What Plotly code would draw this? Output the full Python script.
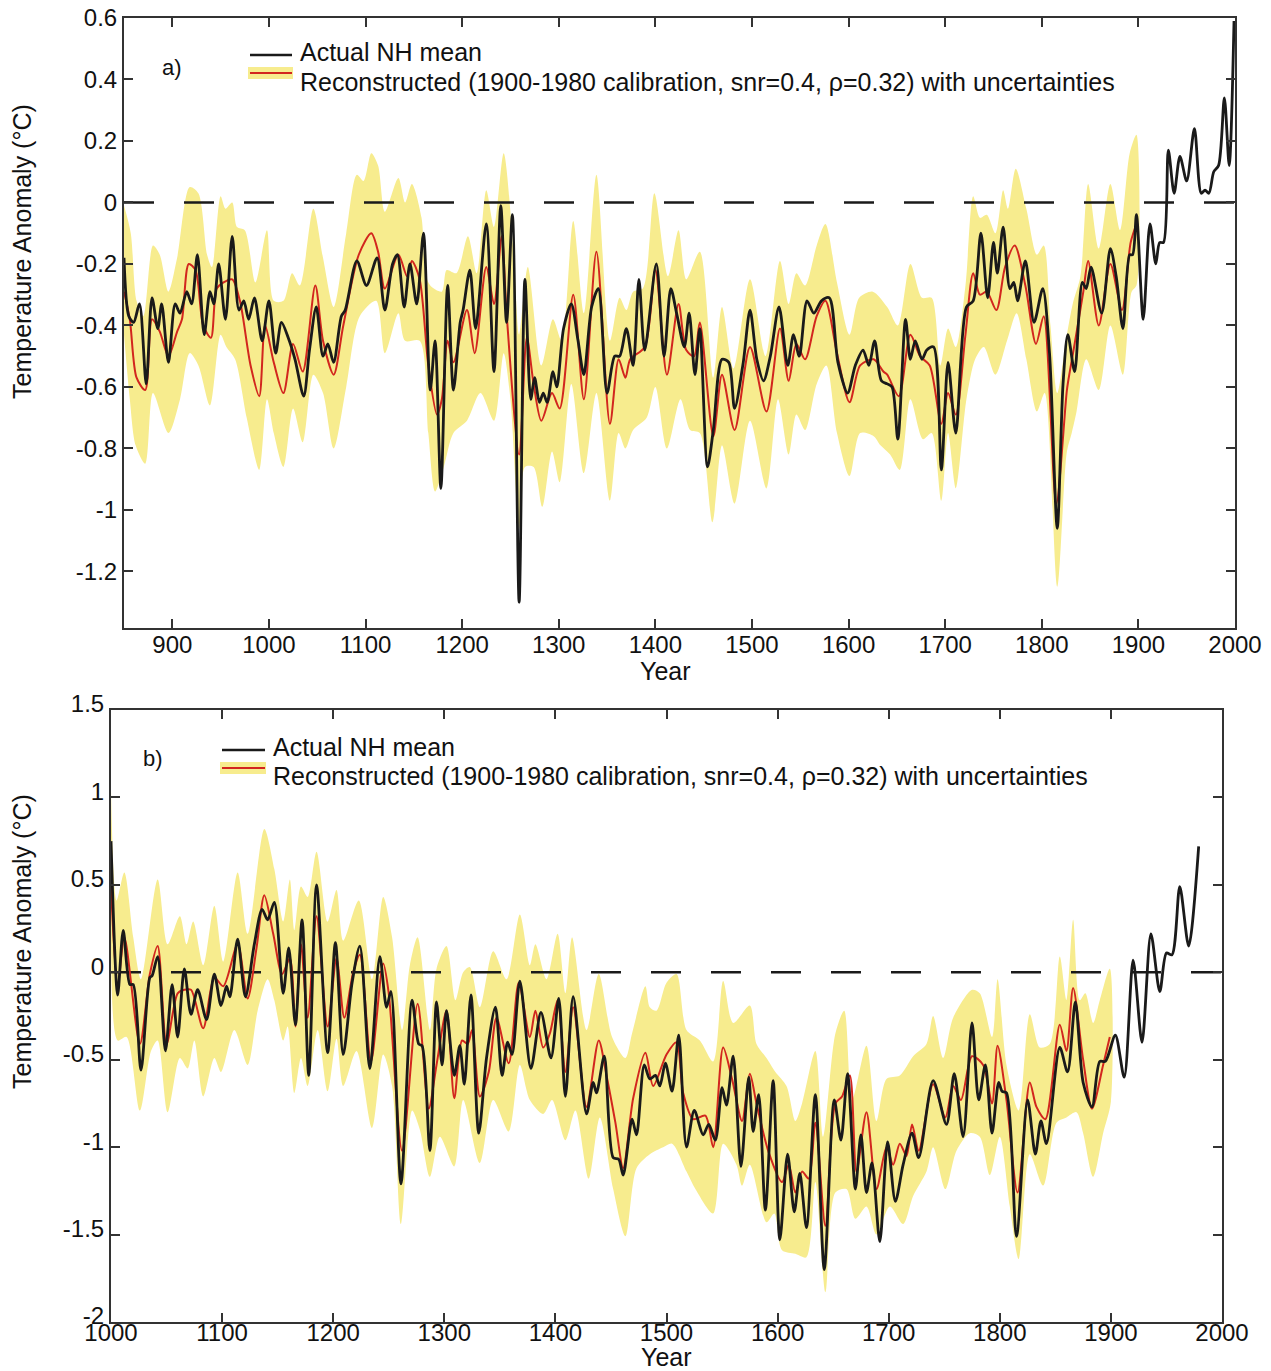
import plotly.graph_objects as go

# ---------------- Panel a data ----------------
a_black_years = [850, 855, 860, 866, 873, 879, 885, 889, 896, 903, 908, 915, 920, 926, 933, 939, 943, 948, 955, 962,
                 969, 974, 979, 985, 993, 1000, 1007, 1013, 1020, 1027, 1036, 1042, 1049, 1056, 1061, 1067, 1075, 1079,
                 1091, 1101, 1112, 1120, 1128, 1133, 1140, 1146, 1153, 1160, 1167, 1172, 1178, 1185, 1191, 1198, 1201,
                 1208, 1214, 1225, 1233, 1240, 1246, 1252, 1259, 1265, 1271, 1275, 1280, 1284, 1288, 1294, 1298, 1305,
                 1313, 1320, 1326, 1334, 1341, 1350, 1358, 1363, 1370, 1377, 1383, 1389, 1401, 1409, 1416, 1422, 1430,
                 1435, 1441, 1446, 1454, 1460, 1469, 1476, 1482, 1491, 1498, 1505, 1512, 1519, 1528, 1537, 1543, 1549,
                 1557, 1564, 1572, 1580, 1589, 1599, 1607, 1615, 1621, 1627, 1634, 1640, 1645, 1651, 1659, 1664, 1669,
                 1676, 1681, 1688, 1696, 1703, 1711, 1722, 1729, 1737, 1744, 1750, 1754, 1760, 1767, 1771, 1775, 1783,
                 1792, 1801, 1808, 1816, 1822, 1827, 1834, 1842, 1846, 1851, 1862, 1871, 1877, 1884, 1891, 1894, 1898,
                 1905, 1912, 1918, 1922, 1926, 1931, 1937, 1943, 1950, 1958, 1965, 1969, 1973, 1978, 1983, 1989, 1994,
                 1999]
a_black_vals = [-0.18, -0.37, -0.39, -0.33, -0.59, -0.31, -0.41, -0.33, -0.52, -0.33, -0.36, -0.29, -0.33, -0.17, -0.43,
                -0.29, -0.33, -0.20, -0.38, -0.11, -0.35, -0.32, -0.38, -0.31, -0.45, -0.32, -0.49, -0.39, -0.44, -0.51,
                -0.63, -0.48, -0.34, -0.50, -0.46, -0.52, -0.37, -0.35, -0.19, -0.27, -0.18, -0.35, -0.20, -0.17, -0.34,
                -0.20, -0.33, -0.10, -0.61, -0.45, -0.93, -0.27, -0.61, -0.39, -0.35, -0.22, -0.41, -0.07, -0.55, -0.01,
                -0.39, -0.04, -1.30, -0.25, -0.64, -0.57, -0.65, -0.62, -0.65, -0.55, -0.60, -0.41, -0.33, -0.45, -0.56,
                -0.34, -0.28, -0.62, -0.50, -0.50, -0.41, -0.53, -0.25, -0.48, -0.20, -0.50, -0.28, -0.36, -0.47, -0.36,
                -0.56, -0.41, -0.86, -0.74, -0.51, -0.52, -0.67, -0.52, -0.35, -0.51, -0.58, -0.50, -0.34, -0.53, -0.43,
                -0.50, -0.32, -0.36, -0.32, -0.31, -0.52, -0.62, -0.53, -0.48, -0.53, -0.45, -0.58, -0.59, -0.60, -0.77,
                -0.38, -0.51, -0.45, -0.51, -0.48, -0.47, -0.87, -0.52, -0.75, -0.34, -0.32, -0.10, -0.31, -0.13, -0.23,
                -0.08, -0.28, -0.26, -0.32, -0.19, -0.39, -0.28, -0.49, -1.06, -0.59, -0.43, -0.55, -0.26, -0.28, -0.21,
                -0.36, -0.15, -0.24, -0.41, -0.17, -0.17, -0.04, -0.38, -0.07, -0.20, -0.13, -0.13, 0.17, 0.03, 0.15,
                0.07, 0.24, 0.03, 0.04, 0.03, 0.10, 0.12, 0.34, 0.12, 0.59]

a_red_years = [850, 856, 863, 872, 879, 887, 896, 905, 910, 917, 924, 932, 940, 946, 953, 962, 970, 981, 990, 996, 1005,
               1015, 1025, 1035, 1048, 1056, 1067, 1077, 1093, 1106, 1113, 1120, 1134, 1143, 1148, 1156, 1165, 1174,
               1179, 1185, 1191, 1205, 1213, 1225, 1233, 1241, 1246, 1259, 1267, 1274, 1282, 1293, 1301, 1315, 1326,
               1339, 1353, 1362, 1369, 1374, 1389, 1400, 1412, 1424, 1432, 1440, 1446, 1460, 1469, 1482, 1498, 1515,
               1529, 1538, 1546, 1555, 1567, 1576, 1588, 1601, 1612, 1626, 1636, 1640, 1652, 1664, 1674, 1684, 1696,
               1703, 1711, 1721, 1729, 1736, 1743, 1753, 1762, 1772, 1783, 1794, 1802, 1815, 1826, 1829, 1834, 1843,
               1848, 1859, 1871, 1883, 1892, 1898]
a_red_vals = [-0.29, -0.38, -0.57, -0.61, -0.38, -0.42, -0.50, -0.42, -0.38, -0.20, -0.22, -0.40, -0.44, -0.28, -0.26,
              -0.25, -0.32, -0.53, -0.63, -0.40, -0.52, -0.62, -0.46, -0.55, -0.27, -0.45, -0.56, -0.40, -0.17, -0.10,
              -0.16, -0.28, -0.17, -0.24, -0.19, -0.25, -0.53, -0.69, -0.64, -0.45, -0.52, -0.35, -0.49, -0.21, -0.33,
              -0.11, -0.36, -0.82, -0.44, -0.59, -0.71, -0.62, -0.67, -0.30, -0.64, -0.16, -0.72, -0.51, -0.57, -0.51,
              -0.47, -0.22, -0.56, -0.33, -0.48, -0.50, -0.39, -0.76, -0.56, -0.74, -0.47, -0.68, -0.41, -0.58, -0.46,
              -0.51, -0.37, -0.32, -0.49, -0.65, -0.53, -0.51, -0.55, -0.56, -0.63, -0.43, -0.50, -0.53, -0.72, -0.62,
              -0.69, -0.43, -0.23, -0.30, -0.29, -0.35, -0.21, -0.14, -0.27, -0.46, -0.37, -0.98, -0.61, -0.55, -0.46,
              -0.29, -0.19, -0.40, -0.20, -0.35, -0.13, -0.07]

a_upper_years = [850, 857, 863, 870, 880, 887, 896, 905, 918, 927, 936, 941, 950, 955, 962, 967, 975, 986, 998, 1005,
                 1015, 1024, 1032, 1046, 1056, 1067, 1080, 1091, 1098, 1106, 1113, 1120, 1134, 1141, 1148, 1158, 1162,
                 1167, 1179, 1184, 1194, 1206, 1215, 1225, 1233, 1243, 1253, 1259, 1268, 1282, 1294, 1303, 1315, 1326,
                 1339, 1353, 1363, 1370, 1377, 1387, 1399, 1413, 1424, 1432, 1446, 1460, 1469, 1481, 1498, 1514, 1529,
                 1538, 1546, 1555, 1567, 1576, 1588, 1601, 1611, 1625, 1640, 1651, 1664, 1676, 1686, 1695, 1703, 1711,
                 1721, 1729, 1736, 1743, 1752, 1760, 1765, 1773, 1784, 1795, 1802, 1809, 1816, 1826, 1832, 1840, 1848,
                 1859, 1871, 1881, 1891, 1898]
a_upper_vals = [-0.01, -0.10, -0.32, -0.37, -0.14, -0.17, -0.29, -0.18, 0.05, 0.03, -0.17, -0.21, 0.02, -0.02, 0.00,
                -0.08, -0.09, -0.26, -0.09, -0.32, -0.32, -0.23, -0.27, -0.02, -0.18, -0.34, -0.10, 0.09, 0.07, 0.16,
                0.12, -0.03, 0.08, 0.00, 0.06, -0.05, -0.23, -0.27, -0.29, -0.22, -0.23, -0.11, -0.23, 0.04, -0.08, 0.16,
                -0.15, -0.43, -0.21, -0.53, -0.38, -0.45, -0.06, -0.36, 0.09, -0.45, -0.31, -0.35, -0.29, -0.28, 0.03,
                -0.24, -0.09, -0.25, -0.16, -0.57, -0.34, -0.54, -0.25, -0.50, -0.19, -0.33, -0.23, -0.27, -0.14, -0.07,
                -0.26, -0.43, -0.31, -0.29, -0.34, -0.40, -0.20, -0.31, -0.31, -0.53, -0.41, -0.47, -0.27, 0.02, -0.05,
                -0.04, -0.10, 0.04, -0.02, 0.11, -0.02, -0.17, -0.14, -0.40, -0.62, -0.43, -0.33, -0.24, 0.06, -0.15,
                0.06, -0.09, 0.16, 0.22]

a_lower_years = [850, 856, 862, 872, 880, 896, 908, 918, 927, 939, 950, 956, 965, 977, 990, 998, 1005, 1015, 1025, 1035,
                 1046, 1056, 1067, 1080, 1094, 1111, 1120, 1134, 1141, 1156, 1165, 1172, 1181, 1191, 1205, 1219, 1233,
                 1243, 1250, 1259, 1265, 1274, 1283, 1293, 1301, 1313, 1326, 1339, 1353, 1362, 1369, 1377, 1391, 1400,
                 1412, 1426, 1436, 1446, 1459, 1469, 1482, 1498, 1515, 1527, 1538, 1546, 1555, 1567, 1577, 1588, 1601,
                 1612, 1626, 1633, 1643, 1653, 1664, 1677, 1686, 1696, 1703, 1711, 1722, 1731, 1740, 1752, 1764, 1774,
                 1784, 1795, 1803, 1816, 1826, 1831, 1836, 1846, 1859, 1871, 1884, 1893, 1898]
a_lower_vals = [-0.43, -0.64, -0.79, -0.85, -0.62, -0.75, -0.64, -0.49, -0.53, -0.66, -0.43, -0.47, -0.51, -0.70, -0.87,
                -0.64, -0.75, -0.86, -0.67, -0.78, -0.56, -0.62, -0.80, -0.60, -0.37, -0.32, -0.49, -0.36, -0.45, -0.45,
                -0.75, -0.94, -0.86, -0.75, -0.71, -0.62, -0.71, -0.49, -0.64, -1.06, -0.86, -0.86, -0.99, -0.81, -0.91,
                -0.59, -0.88, -0.62, -0.97, -0.75, -0.80, -0.74, -0.70, -0.60, -0.80, -0.64, -0.74, -0.75, -1.04, -0.79,
                -0.98, -0.71, -0.93, -0.64, -0.82, -0.69, -0.74, -0.59, -0.53, -0.75, -0.89, -0.75, -0.76, -0.79, -0.82,
                -0.87, -0.64, -0.77, -0.75, -0.97, -0.75, -0.93, -0.64, -0.51, -0.47, -0.56, -0.45, -0.36, -0.51, -0.68,
                -0.62, -1.25, -0.81, -0.75, -0.68, -0.51, -0.61, -0.40, -0.56, -0.29, -0.27]

a_xticks = [900, 1000, 1100, 1200, 1300, 1400, 1500, 1600, 1700, 1800, 1900, 2000]
a_yticks = [-1.2, -1.0, -0.8, -0.6, -0.4, -0.2, 0.0, 0.2, 0.4, 0.6]
a_yticktext = ["-1.2", "-1", "-0.8", "-0.6", "-0.4", "-0.2", "0", "0.2", "0.4", "0.6"]

# ---------------- Panel b data ----------------
b_black_years = [1000, 1006, 1011, 1017, 1020, 1027, 1035, 1037, 1042, 1049, 1055, 1060, 1066, 1072, 1078, 1086, 1093,
                 1099, 1104, 1107, 1114, 1121, 1129, 1136, 1141, 1147, 1155, 1160, 1166, 1172, 1178, 1185, 1195, 1202,
                 1209, 1217, 1224, 1233, 1242, 1248, 1252, 1261, 1271, 1277, 1280, 1287, 1293, 1298, 1302, 1309, 1314,
                 1318, 1324, 1331, 1338, 1346, 1352, 1357, 1361, 1368, 1378, 1387, 1396, 1403, 1409, 1416, 1428, 1434,
                 1437, 1444, 1452, 1457, 1461, 1469, 1473, 1480, 1485, 1490, 1494, 1499, 1505, 1511, 1518, 1525, 1533,
                 1538, 1544, 1550, 1554, 1560, 1567, 1574, 1578, 1583, 1589, 1596, 1602, 1609, 1615, 1620, 1626, 1634,
                 1642, 1651, 1657, 1663, 1670, 1675, 1680, 1685, 1692, 1699, 1706, 1713, 1721, 1727, 1740, 1752, 1759,
                 1767, 1775, 1781, 1787, 1793, 1799, 1802, 1806, 1815, 1825, 1832, 1837, 1842, 1854, 1861, 1868, 1875,
                 1883, 1890, 1895, 1904, 1912, 1920, 1928, 1936, 1944, 1950, 1955, 1962, 1970, 1979]
b_black_vals = [0.75, -0.13, 0.24, -0.07, -0.07, -0.56, -0.03, -0.02, 0.09, -0.45, -0.07, -0.37, 0.02, -0.24, -0.10,
                -0.27, -0.01, -0.19, -0.08, -0.14, 0.19, -0.14, 0.16, 0.36, 0.30, 0.40, -0.12, 0.14, -0.30, 0.30, -0.59,
                0.50, -0.46, 0.17, -0.47, -0.06, 0.15, -0.55, 0.09, -0.20, -0.11, -1.21, -0.16, -0.41, -0.42, -1.02,
                -0.17, -0.53, -0.22, -0.59, -0.42, -0.64, -0.13, -0.92, -0.49, -0.20, -0.59, -0.40, -0.47, -0.05, -0.55,
                -0.23, -0.49, -0.15, -0.71, -0.14, -0.81, -0.63, -0.69, -0.48, -1.06, -1.07, -1.16, -0.84, -0.93, -0.53,
                -0.61, -0.59, -0.65, -0.52, -0.68, -0.36, -1.00, -0.79, -0.93, -0.87, -0.96, -0.66, -0.76, -0.48, -1.11,
                -0.60, -0.91, -0.70, -1.36, -0.62, -1.53, -1.04, -1.37, -1.15, -1.46, -0.70, -1.70, -0.73, -0.96, -0.58,
                -1.24, -0.93, -1.26, -1.09, -1.54, -0.97, -1.31, -1.10, -0.92, -1.06, -0.62, -0.87, -0.58, -0.94, -0.29,
                -0.73, -0.53, -0.92, -0.63, -0.68, -0.69, -1.51, -0.73, -1.04, -0.85, -0.98, -0.43, -0.57, -0.17, -0.63,
                -0.77, -0.51, -0.51, -0.36, -0.60, 0.07, -0.40, 0.22, -0.11, 0.11, 0.10, 0.49, 0.15, 0.72]

b_red_years = [1000, 1006, 1012, 1026, 1035, 1042, 1050, 1060, 1066, 1072, 1083, 1093, 1101, 1114, 1123, 1131, 1138,
               1146, 1154, 1161, 1166, 1171, 1177, 1185, 1195, 1203, 1210, 1218, 1224, 1234, 1245, 1250, 1262, 1276,
               1286, 1293, 1302, 1309, 1316, 1321, 1325, 1332, 1340, 1347, 1358, 1367, 1377, 1382, 1389, 1395, 1402,
               1409, 1416, 1428, 1439, 1446, 1454, 1461, 1470, 1481, 1488, 1500, 1509, 1515, 1524, 1535, 1542, 1551,
               1559, 1568, 1575, 1581, 1592, 1604, 1610, 1616, 1622, 1628, 1634, 1643, 1652, 1658, 1665, 1671, 1680,
               1689, 1698, 1704, 1710, 1716, 1721, 1727, 1740, 1751, 1758, 1765, 1775, 1785, 1793, 1798, 1806, 1816,
               1827, 1833, 1841, 1854, 1860, 1866, 1875, 1883, 1893, 1899]
b_red_vals = [0.49, -0.08, 0.20, -0.41, -0.01, 0.15, -0.41, -0.12, -0.10, -0.10, -0.32, -0.03, -0.08, 0.16, -0.15, 0.14,
              0.44, 0.22, -0.01, 0.08, -0.31, 0.16, -0.26, 0.32, -0.31, 0.08, -0.26, 0.00, 0.10, -0.51, 0.05, -0.12,
              -1.02, -0.18, -0.78, -0.53, -0.22, -0.72, -0.39, -0.41, -0.33, -0.71, -0.57, -0.26, -0.52, -0.06, -0.37,
              -0.22, -0.43, -0.35, -0.16, -0.57, -0.20, -0.77, -0.39, -0.59, -0.86, -1.12, -0.72, -0.46, -0.65, -0.47,
              -0.40, -0.69, -0.84, -0.82, -1.00, -0.43, -0.61, -0.85, -0.58, -0.75, -1.03, -1.20, -1.10, -1.26, -1.14,
              -1.18, -0.86, -1.45, -0.75, -0.71, -0.59, -1.14, -0.80, -1.24, -1.00, -1.10, -0.98, -1.05, -0.87, -1.02,
              -0.64, -0.83, -0.65, -0.73, -0.48, -0.53, -0.75, -0.42, -0.73, -1.26, -0.63, -0.77, -0.84, -0.30, -0.45,
              -0.09, -0.50, -0.78, -0.53, -0.37]

b_upper_years = [1000, 1005, 1012, 1020, 1027, 1042, 1051, 1062, 1068, 1074, 1083, 1093, 1101, 1114, 1123, 1138, 1147,
                 1155, 1161, 1165, 1171, 1177, 1185, 1195, 1203, 1209, 1223, 1235, 1245, 1253, 1262, 1269, 1276, 1287,
                 1293, 1302, 1310, 1317, 1323, 1332, 1344, 1356, 1368, 1377, 1382, 1392, 1402, 1409, 1415, 1428, 1439,
                 1451, 1463, 1469, 1481, 1485, 1491, 1500, 1509, 1518, 1530, 1542, 1551, 1560, 1575, 1581, 1590, 1598,
                 1608, 1616, 1622, 1634, 1641, 1652, 1660, 1667, 1680, 1689, 1698, 1710, 1722, 1734, 1740, 1749, 1758,
                 1775, 1782, 1793, 1798, 1806, 1817, 1827, 1836, 1845, 1854, 1860, 1866, 1872, 1877, 1884, 1890, 1899]
b_upper_vals = [1.04, 0.41, 0.57, 0.20, -0.04, 0.53, 0.16, 0.32, 0.16, 0.29, 0.04, 0.38, 0.06, 0.57, 0.22, 0.82, 0.59,
                0.29, 0.53, 0.24, 0.49, 0.43, 0.69, 0.29, 0.47, 0.18, 0.41, -0.04, 0.43, 0.20, -0.33, 0.04, 0.20, -0.33,
                0.02, 0.15, -0.16, 0.00, 0.03, -0.20, 0.12, -0.04, 0.33, 0.04, 0.16, -0.04, 0.22, -0.12, 0.20, -0.33,
                -0.01, -0.37, -0.49, -0.35, -0.08, -0.20, -0.22, -0.06, -0.01, -0.33, -0.39, -0.51, -0.05, -0.29, -0.19,
                -0.41, -0.49, -0.57, -0.65, -0.85, -0.75, -0.45, -0.94, -0.35, -0.22, -0.73, -0.42, -0.85, -0.61, -0.59,
                -0.48, -0.41, -0.25, -0.49, -0.26, -0.10, -0.12, -0.37, -0.04, -0.53, -0.79, -0.24, -0.43, -0.41, 0.09,
                -0.16, 0.30, -0.16, -0.12, -0.29, -0.16, 0.02]

b_lower_years = [1000, 1006, 1014, 1026, 1036, 1042, 1051, 1062, 1069, 1075, 1083, 1093, 1099, 1111, 1123, 1132, 1141,
                 1147, 1155, 1159, 1165, 1171, 1177, 1186, 1195, 1203, 1209, 1221, 1235, 1245, 1253, 1261, 1271, 1278,
                 1287, 1296, 1309, 1317, 1332, 1344, 1358, 1368, 1377, 1389, 1397, 1409, 1418, 1430, 1440, 1452, 1463,
                 1473, 1485, 1497, 1505, 1518, 1526, 1542, 1551, 1563, 1568, 1575, 1590, 1597, 1604, 1616, 1626, 1634,
                 1643, 1652, 1662, 1670, 1680, 1689, 1701, 1713, 1722, 1734, 1740, 1751, 1761, 1773, 1782, 1791, 1800,
                 1809, 1817, 1827, 1839, 1851, 1860, 1869, 1875, 1884, 1893, 1900]
b_lower_vals = [0.29, -0.39, -0.37, -0.79, -0.45, -0.39, -0.80, -0.49, -0.55, -0.39, -0.71, -0.49, -0.57, -0.33, -0.53,
                -0.22, -0.04, -0.16, -0.39, -0.31, -0.69, -0.49, -0.65, -0.33, -0.68, -0.38, -0.65, -0.45, -0.89, -0.47,
                -0.65, -1.44, -0.79, -0.90, -1.17, -0.94, -1.11, -0.73, -1.09, -0.73, -0.91, -0.53, -0.73, -0.81, -0.73,
                -0.96, -0.79, -1.18, -0.83, -1.24, -1.51, -1.12, -1.04, -1.00, -0.98, -1.14, -1.24, -1.38, -0.98, -1.10,
                -1.22, -1.10, -1.43, -1.38, -1.59, -1.61, -1.63, -1.20, -1.83, -1.26, -1.24, -1.41, -1.34, -1.50, -1.34,
                -1.44, -1.28, -1.14, -1.00, -1.24, -1.02, -0.92, -0.94, -1.16, -0.94, -1.34, -1.64, -1.04, -1.22, -0.86,
                -0.83, -0.80, -0.92, -1.17, -0.92, -0.74]

b_xticks = [1000, 1100, 1200, 1300, 1400, 1500, 1600, 1700, 1800, 1900, 2000]
b_yticks = [-2.0, -1.5, -1.0, -0.5, 0.0, 0.5, 1.0, 1.5]
b_yticktext = ["-2", "-1.5", "-1", "-0.5", "0", "0.5", "1", "1.5"]

legend_actual = "Actual NH mean"
legend_recon = "Reconstructed (1900-1980 calibration, snr=0.4, \u03c1=0.32) with uncertainties"
y_title = "Temperature Anomaly (\u00b0C)"
x_title = "Year"

# ---------------- styling ----------------
W, H = 1271, 1371
FONT = "Liberation Sans, Arial, Helvetica, sans-serif"
FS_TICK = 24
FS_TEXT = 25
YEL = "#F7EC8E"
RED = "#D2261E"
BLK = "#1A1A1A"
AX = "#333333"
TXT = "#111111"


def px(x):
    return x / W


def py(y):
    return 1 - y / H


fig = go.Figure()


def add_panel(xa, ya, up_y, up_v, lo_y, lo_v, red_y, red_v, blk_y, blk_v, x0, x1):
    fig.add_trace(go.Scatter(x=up_y + lo_y[::-1], y=up_v + lo_v[::-1], fill="toself", fillcolor=YEL,
                             mode="lines", line=dict(width=0, shape="spline", smoothing=0.8),
                             hoverinfo="skip", showlegend=False, xaxis=xa, yaxis=ya))
    fig.add_trace(go.Scatter(x=[x0, x1], y=[0, 0], mode="lines",
                             line=dict(color=BLK, width=2.5, dash="30px,30px"),
                             showlegend=False, xaxis=xa, yaxis=ya))
    fig.add_trace(go.Scatter(x=red_y, y=red_v, mode="lines",
                             line=dict(color=RED, width=2, shape="spline", smoothing=0.8),
                             showlegend=False, xaxis=xa, yaxis=ya))
    fig.add_trace(go.Scatter(x=blk_y, y=blk_v, mode="lines",
                             line=dict(color=BLK, width=2.8, shape="spline", smoothing=0.8),
                             showlegend=False, xaxis=xa, yaxis=ya))


add_panel("x", "y", a_upper_years, a_upper_vals, a_lower_years, a_lower_vals,
          a_red_years, a_red_vals, a_black_years, a_black_vals, 850, 2000)
add_panel("x2", "y2", b_upper_years, b_upper_vals, b_lower_years, b_lower_vals,
          b_red_years, b_red_vals, b_black_years, b_black_vals, 1000, 2000)

axis_common = dict(showline=True, linecolor=AX, linewidth=2, mirror="ticks", ticks="inside",
                   ticklen=9, tickwidth=1.5, tickcolor=AX, showgrid=False, zeroline=False,
                   tickfont=dict(family=FONT, size=FS_TICK, color=TXT), automargin=False)

fig.update_layout(
    width=W, height=H, autosize=False,
    margin=dict(l=0, r=0, t=0, b=0),
    paper_bgcolor="white", plot_bgcolor="white",
    font=dict(family=FONT, size=FS_TICK, color=TXT),
    showlegend=False,
    xaxis=dict(domain=[px(124), px(1235)], range=[850, 2000], anchor="y", tickvals=a_xticks,
               ticklabelstandoff=-6, **axis_common),
    yaxis=dict(domain=[py(628), py(18)], range=[-1.384, 0.6], anchor="x", tickvals=a_yticks,
               ticktext=a_yticktext, **axis_common),
    xaxis2=dict(domain=[px(111), px(1222)], range=[1000, 2000], anchor="y2", tickvals=b_xticks,
                ticklabelstandoff=-12, **axis_common),
    yaxis2=dict(domain=[py(1322), py(710)], range=[-2, 1.5], anchor="x2", tickvals=b_yticks,
                ticktext=b_yticktext, ticklabelshift=-6, **axis_common),
)

# legends, panel labels and axis titles (layout decoration in paper coordinates)
shapes = []
annotations = []


def text_ann(x, y, text, size, angle=0, xanchor="center"):
    annotations.append(dict(xref="paper", yref="paper", x=px(x), y=py(y), text=text, textangle=angle,
                            showarrow=False, xanchor=xanchor, yanchor="middle",
                            font=dict(family=FONT, size=size, color=TXT)))


def legend_block(xl, xr, y_black, y_recon, y_txt1, y_txt2, x_txt, label, x_lab, y_lab):
    shapes.append(dict(type="line", xref="paper", yref="paper", x0=px(xl), x1=px(xr),
                       y0=py(y_black), y1=py(y_black), line=dict(color=BLK, width=2.5)))
    shapes.append(dict(type="rect", xref="paper", yref="paper", x0=px(xl - 2), x1=px(xr + 1),
                       y0=py(y_recon + 6), y1=py(y_recon - 6), fillcolor=YEL, line=dict(width=0)))
    shapes.append(dict(type="line", xref="paper", yref="paper", x0=px(xl), x1=px(xr),
                       y0=py(y_recon), y1=py(y_recon), line=dict(color=RED, width=2)))
    text_ann(x_txt, y_txt1, legend_actual, FS_TEXT, xanchor="left")
    text_ann(x_txt, y_txt2, legend_recon, FS_TEXT, xanchor="left")
    text_ann(x_lab, y_lab, label, FS_TEXT - 3, xanchor="left")


legend_block(250, 292, 55, 73, 52, 82, 298, "a)", 160, 68)
legend_block(222, 265, 750, 768, 747, 776, 271, "b)", 141, 758)

# axis titles
text_ann(22, 252, y_title, FS_TEXT, angle=-90)
text_ann(22, 942, y_title, FS_TEXT, angle=-90)
text_ann(665, 671, x_title, FS_TEXT)
text_ann(666, 1357, x_title, FS_TEXT)

fig.update_layout(shapes=shapes, annotations=annotations)

fig.write_html("out.html", config={"displayModeBar": False},
               post_script="document.body.style.margin='0px';document.body.style.overflow='hidden';")
